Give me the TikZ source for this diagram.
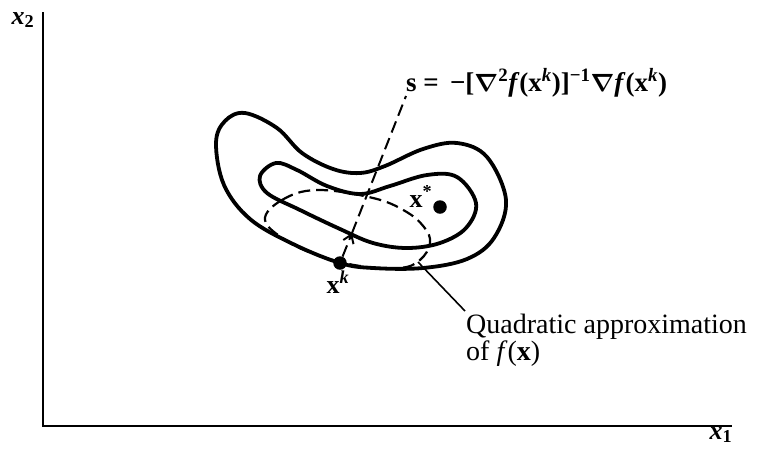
\documentclass[tikz,border=0pt]{standalone}
\usepackage{fontspec}
\setmainfont{Liberation Serif}
\usepackage{amsmath}
\usetikzlibrary{arrows.meta}
\begin{document}
\begin{tikzpicture}[x=1pt,y=-1pt,
  axisline/.style={line width=2pt},
  contour/.style={line width=3.8pt, line join=round},
  quaddash/.style={line width=2.2pt, dash pattern=on 12pt off 6pt},
  searchdir/.style={line width=2pt, dash pattern=on 12pt off 6pt},
  dotmark/.style={circle, fill=black, inner sep=0pt, minimum size=13.5pt},
  lbl/.style={inner sep=0pt, font=\fontsize{26}{30}\selectfont\bfseries},
  axlbl/.style={inner sep=0pt, font=\fontsize{26}{30}\selectfont\bfseries\itshape},
  txt/.style={inner sep=0pt, font=\fontsize{28}{25}\selectfont, align=left}]
\useasboundingbox (0,0) rectangle (758,448);
% axes
\coordinate (ytop) at (43,12);
\coordinate (orig) at (43,426);
\coordinate (xend) at (732,426);
\draw[axisline] (ytop) -- (orig) -- (xend);
\node[axlbl] (x2) at (23,20) {x\textsubscript{\upshape 2}};
\node[axlbl] (x1) at (721,435) {x\textsubscript{\upshape 1}};
% quadratic approximation (dashed)
\draw[quaddash] plot[smooth cycle, tension=0.65] coordinates {
  (265,220) (282,200) (317,190) (373,198) (405,211) (424,227) (430,243)
  (420,260) (400,268) (360,266) (320,256) (287,241)};
% outer contour
\draw[contour] plot[smooth cycle, tension=0.6] coordinates {
  (216,143) (225,121) (245,113) (277,128) (302,153) (333,169) (360,173)
  (385,166) (423,149) (457,143) (487,157) (506,200) (494,238) (467,259)
  (423,268) (373,268) (340,263) (293,244) (250,219) (224,185)};
% inner contour
\draw[contour] plot[smooth cycle, tension=0.6] coordinates {
  (260,176) (276,163) (297,170) (327,186) (360,194) (390,186) (427,175)
  (457,177) (476,203) (466,228) (440,243) (407,248) (373,243) (340,229)
  (300,210) (267,193)};
% points
\node[dotmark] (xk) at (340,263) {};
\node[dotmark] (xs) at (440,207) {};
\node[lbl, anchor=base] (xklbl) at (338,293) {x\textsuperscript{\itshape k}};
\node[lbl, anchor=base] (xslbl) at (421,207) {x\textsuperscript{*}};
% search direction
\coordinate (stip) at (352,233);
\coordinate (send) at (406,96);
\draw[searchdir, -{Straight Barb[length=8pt,width=11pt,line width=2pt]}] (xk) -- (stip);
\draw[searchdir] (stip) -- (send);
\node[lbl, anchor=base west, font=\fontsize{27}{30}\selectfont\bfseries] (sform) at (406,91) {s = \,−[$\boldsymbol{\nabla}$\textsuperscript{2}\textit{f}(x\textsuperscript{\itshape k})]\textsuperscript{−1}$\boldsymbol{\nabla}$\textit{f}(x\textsuperscript{\itshape k})};
% leader
\coordinate (qa) at (418,262);
\node[txt, anchor=north west] (qtext) at (466,314) {Quadratic approximation\\of \textit{f}(\textbf{x})};
\draw[line width=1.6pt] (qa) -- (465,311);
\end{tikzpicture}
\end{document}
